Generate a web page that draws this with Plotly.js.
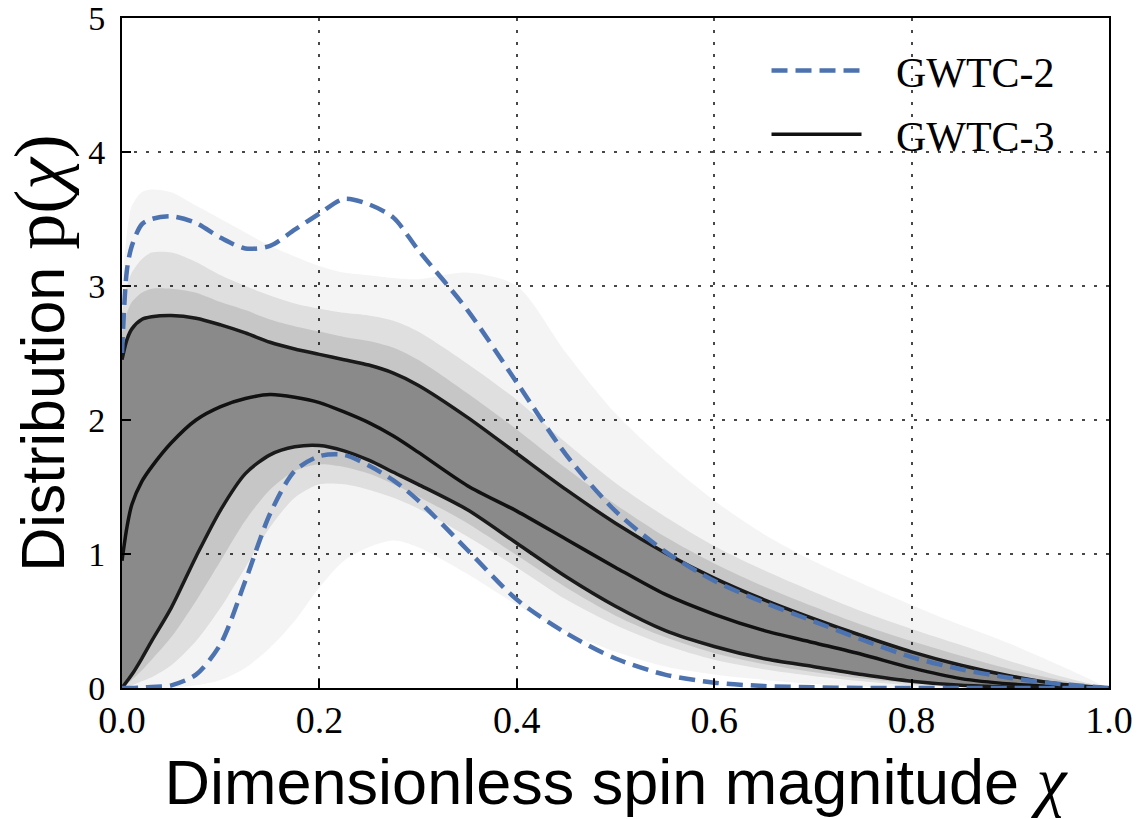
<!DOCTYPE html>
<html>
<head>
<meta charset="utf-8">
<script src="https://cdn.plot.ly/plotly-3.0.1.min.js"></script>
<style>html,body{margin:0;padding:0;background:#fff;}#chart{width:1138px;height:819px;}</style>
</head>
<body>
<div id="chart"></div>
<script>
// spin magnitude grid
const chi = [0, 0.005, 0.01, 0.02, 0.03, 0.05, 0.075, 0.1, 0.125, 0.15, 0.175, 0.2, 0.225, 0.25, 0.275, 0.3, 0.35, 0.4, 0.45, 0.5, 0.55, 0.6, 0.65, 0.7, 0.75, 0.8, 0.85, 0.9, 0.95, 1.0];

// GWTC-2 90% bounds (dashed)
const gwtc2Upper = [2.5, 3.12, 3.3, 3.46, 3.5, 3.52, 3.47, 3.36, 3.28, 3.30, 3.42, 3.54, 3.65, 3.61, 3.51, 3.27, 2.82, 2.28, 1.74, 1.32, 1.02, 0.80, 0.64, 0.50, 0.36, 0.23, 0.14, 0.075, 0.03, 0];
const gwtc2Lower = [0, 0, 0, 0.003, 0.008, 0.02, 0.1, 0.33, 0.8, 1.3, 1.62, 1.73, 1.74, 1.66, 1.55, 1.40, 1.03, 0.66, 0.41, 0.22, 0.10, 0.04, 0.015, 0.005, 0, 0, 0, 0, 0, 0];

// GWTC-3 median and 90% bounds (solid)
const gwtc3Median = [0.95, 1.2, 1.37, 1.54, 1.65, 1.83, 2.0, 2.1, 2.16, 2.19, 2.17, 2.13, 2.06, 1.98, 1.88, 1.76, 1.51, 1.32, 1.11, 0.90, 0.70, 0.55, 0.43, 0.34, 0.25, 0.15, 0.07, 0.03, 0.01, 0];
const gwtc3Upper = [2.45, 2.6, 2.68, 2.75, 2.77, 2.78, 2.76, 2.71, 2.65, 2.58, 2.53, 2.49, 2.45, 2.41, 2.35, 2.26, 2.02, 1.75, 1.48, 1.23, 1.01, 0.82, 0.66, 0.52, 0.39, 0.27, 0.17, 0.09, 0.03, 0];
const gwtc3Lower = [0, 0.05, 0.1, 0.22, 0.35, 0.6, 0.98, 1.33, 1.6, 1.74, 1.80, 1.81, 1.77, 1.70, 1.61, 1.52, 1.33, 1.08, 0.83, 0.61, 0.43, 0.31, 0.22, 0.16, 0.10, 0.05, 0.02, 0.008, 0.002, 0];

// GWTC-3 posterior-draw cloud envelopes (faint outer, inner, densest near the band)
const cloudOuterTop = [3.0, 3.4, 3.6, 3.7, 3.72, 3.7, 3.6, 3.5, 3.4, 3.3, 3.22, 3.15, 3.1, 3.08, 3.06, 3.05, 3.1, 3.0, 2.5, 2.05, 1.7, 1.4, 1.15, 0.95, 0.78, 0.62, 0.47, 0.33, 0.17, 0];
const cloudOuterBottom = [0, 0, 0, 0, 0, 0, 0.02, 0.06, 0.15, 0.3, 0.5, 0.75, 0.95, 1.05, 1.1, 1.05, 0.85, 0.62, 0.42, 0.27, 0.16, 0.1, 0.06, 0.03, 0.01, 0, 0, 0, 0, 0];
const cloudInnerTop = [2.8, 3.0, 3.1, 3.2, 3.25, 3.25, 3.18, 3.08, 3.0, 2.93, 2.87, 2.83, 2.8, 2.78, 2.74, 2.66, 2.42, 2.15, 1.83, 1.53, 1.28, 1.06, 0.88, 0.72, 0.57, 0.44, 0.32, 0.2, 0.09, 0];
const cloudInnerBottom = [0, 0.01, 0.02, 0.05, 0.08, 0.17, 0.35, 0.6, 0.9, 1.2, 1.42, 1.52, 1.52, 1.48, 1.42, 1.34, 1.13, 0.9, 0.66, 0.47, 0.32, 0.21, 0.14, 0.09, 0.05, 0.02, 0.01, 0, 0, 0];
const cloudNearTop = [2.65, 2.8, 2.88, 2.95, 2.98, 2.98, 2.95, 2.88, 2.82, 2.75, 2.7, 2.66, 2.62, 2.59, 2.54, 2.45, 2.2, 1.93, 1.64, 1.37, 1.13, 0.93, 0.76, 0.61, 0.47, 0.35, 0.24, 0.14, 0.06, 0];
const cloudNearBottom = [0, 0.03, 0.06, 0.13, 0.21, 0.38, 0.65, 0.95, 1.25, 1.48, 1.62, 1.67, 1.65, 1.6, 1.52, 1.43, 1.23, 0.99, 0.75, 0.54, 0.38, 0.26, 0.18, 0.12, 0.07, 0.035, 0.015, 0.005, 0, 0];

const xTicks = [0, 0.2, 0.4, 0.6, 0.8, 1.0];
const xTickText = ['0.0', '0.2', '0.4', '0.6', '0.8', '1.0'];
const yTicks = [0, 1, 2, 3, 4, 5];
const yTickText = ['0', '1', '2', '3', '4', '5'];
const seriesNames = ['GWTC-2', 'GWTC-3'];

function band(lo, hi) {
  return {
    x: chi.concat(chi.slice().reverse()),
    y: hi.concat(lo.slice().reverse())
  };
}

const serif = 'Liberation Serif, DejaVu Serif, serif';
const sans = 'Liberation Sans, Arial, sans-serif';
const blue = '#4C72B0';
const sp = {shape: 'spline', smoothing: 0.8};

const bOuter = band(cloudOuterBottom, cloudOuterTop);
const bInner = band(cloudInnerBottom, cloudInnerTop);
const bNear = band(cloudNearBottom, cloudNearTop);
const bCore = band(gwtc3Lower, gwtc3Upper);

function fillTrace(b, color) {
  return {x: b.x, y: b.y, type: 'scatter', mode: 'lines', fill: 'toself', fillcolor: color,
          line: Object.assign({width: 0}, sp), hoverinfo: 'skip', showlegend: false};
}

const traces = [
  fillTrace(bOuter, 'rgba(0,0,0,0.045)'),
  fillTrace(bInner, 'rgba(0,0,0,0.085)'),
  fillTrace(bNear, 'rgba(0,0,0,0.11)'),
  fillTrace(bCore, '#8a8a8a'),
  {x: chi, y: gwtc3Upper, type: 'scatter', mode: 'lines', line: Object.assign({color: '#1a1a1a', width: 3.5}, sp), showlegend: false},
  {x: chi, y: gwtc3Median, type: 'scatter', mode: 'lines', name: '\u2002\u2009' + seriesNames[1], legendrank: 2, legendgroup: 'b', line: Object.assign({color: '#111', width: 3.5}, sp)},
  {x: chi, y: gwtc3Lower, type: 'scatter', mode: 'lines', line: Object.assign({color: '#1a1a1a', width: 3.5}, sp), showlegend: false},
  {x: chi, y: gwtc2Upper, type: 'scatter', mode: 'lines', name: '\u2002\u2009' + seriesNames[0], legendrank: 1, legendgroup: 'a', line: Object.assign({color: blue, width: 4.5, dash: '16px,8px'}, sp)},
  {x: chi, y: gwtc2Lower, type: 'scatter', mode: 'lines', line: Object.assign({color: blue, width: 4.5, dash: '16px,8px'}, sp), showlegend: false}
];

const axisCommon = {
  ticks: 'inside', ticklen: 9, tickwidth: 2, tickcolor: '#000',
  showline: true, linewidth: 2, linecolor: '#000', mirror: true,
  showgrid: true, gridcolor: '#484848', gridwidth: 2, griddash: '3px,9px',
  zeroline: false, fixedrange: true, ticklabeloverflow: 'allow'
};

const layout = {
  width: 1138, height: 819,
  margin: {l: 122, r: 29, t: 18, b: 131},
  paper_bgcolor: '#fff', plot_bgcolor: '#fff',
  xaxis: Object.assign({}, axisCommon, {
    range: [0, 1], tickvals: xTicks, ticktext: xTickText, ticklabelstandoff: -3,
    tickfont: {family: serif, size: 38, color: '#000'},
    title: {text: 'Dimensionless spin magnitude <span style="font-family:Liberation Serif;font-size:68px"><i>χ</i></span>', font: {family: sans, size: 63, color: '#000'}, standoff: 21}
  }),
  yaxis: Object.assign({}, axisCommon, {
    range: [0, 5], tickvals: yTicks, ticktext: yTickText, ticklabelstandoff: 8,
    tickfont: {family: serif, size: 34, color: '#000'},
    title: {text: 'Distribution <span style="font-family:Liberation Serif;font-size:72px">p(<i>χ</i>)</span>', font: {family: sans, size: 61, color: '#000'}, standoff: 6}
  }),
  legend: {
    x: 0.653, y: 0.972, xanchor: 'left', yanchor: 'top',
    bgcolor: 'rgba(0,0,0,0)', borderwidth: 0,
    font: {family: serif, size: 42, color: '#000'},
    itemwidth: 90, tracegroupgap: 6, traceorder: 'grouped'
  },
  showlegend: true
};

Plotly.newPlot('chart', traces, layout, {displayModeBar: false, staticPlot: true});
</script>
</body>
</html>
